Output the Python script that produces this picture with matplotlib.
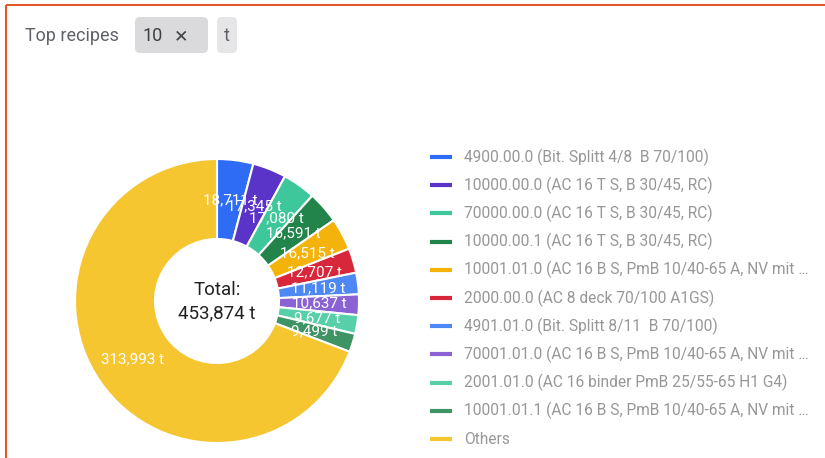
import matplotlib.pyplot as plt
from matplotlib.patches import FancyBboxPatch

plt.rcParams['font.family'] = ['Roboto', 'DejaVu Sans']

# data
recipes = ["4900.00.0 (Bit. Splitt 4/8  B 70/100)",
           "10000.00.0 (AC 16 T S, B 30/45, RC)",
           "70000.00.0 (AC 16 T S, B 30/45, RC)",
           "10000.00.1 (AC 16 T S, B 30/45, RC)",
           "10001.01.0 (AC 16 B S, PmB 10/40-65 A, NV mit …",
           "2000.00.0 (AC 8 deck 70/100 A1GS)",
           "4901.01.0 (Bit. Splitt 8/11  B 70/100)",
           "70001.01.0 (AC 16 B S, PmB 10/40-65 A, NV mit …",
           "2001.01.0 (AC 16 binder PmB 25/55-65 H1 G4)",
           "10001.01.1 (AC 16 B S, PmB 10/40-65 A, NV mit …",
           "Others"]
tonnes = [18711, 17345, 17080, 16591, 16515, 12707, 11119, 10637, 9677, 9499, 313993]
colors = ["#2f6cf6", "#5a33c8", "#3dc79a", "#22844a", "#f3b30b", "#d8263a",
          "#4d88f4", "#8a62d4", "#57cfa8", "#3f9465", "#f6c630"]
total = sum(tonnes)

W, H = 825, 458
fig = plt.figure(figsize=(W/100, H/100), dpi=100)
ax = fig.add_axes([0, 0, 1, 1])

def py(y):
    return H - y

# frame border
ax.plot([6, W], [py(4.5), py(4.5)], color="#e4582b", lw=1.5, solid_capstyle='butt')
ax.plot([6, 6], [py(4.5), 0], color="#e4582b", lw=1.5, solid_capstyle='butt')

# header
ax.text(25, py(36), "Top recipes", fontsize=13, color="#5f6368", va='center', ha='left')
ax.add_patch(FancyBboxPatch((135, py(53)), 73, 36, boxstyle="round,pad=0,rounding_size=5",
                            fc="#dadadd", ec="none"))
ax.text(142, py(36), "10", fontsize=13, color="#3c4043", va='center', ha='left')
ax.text(174, py(36), "✕", fontsize=12.5, color="#3c4043", va='center', ha='left',
        family=['DejaVu Sans'], fontweight='bold')
ax.add_patch(FancyBboxPatch((217, py(53)), 20, 36, boxstyle="round,pad=0,rounding_size=5",
                            fc="#e6e6e8", ec="none"))
ax.text(227, py(36), "t", fontsize=13, color="#5f6368", va='center', ha='center')

# donut
cx, cy, r_out, r_in = 217, py(301), 142, 62
labels = ["{:,} t".format(v) for v in tonnes]
wedges, texts = ax.pie(tonnes, colors=colors, startangle=90, counterclock=False,
                       center=(cx, cy), radius=r_out, labels=labels,
                       labeldistance=(r_out + r_in) / 2 / r_out,
                       wedgeprops=dict(width=r_out - r_in, edgecolor='white', linewidth=1.5),
                       textprops=dict(color='white', fontsize=11), frame=True)
for t in texts:
    t.set_ha('center')
    t.set_va('center')
ax.set_xlim(0, W)
ax.set_ylim(0, H)
ax.set_axis_off()

ax.text(cx, py(290), "Total:", fontsize=13.5, color="#222222", ha='center', va='center')
ax.text(cx, py(313), "{:,} t".format(total), fontsize=13.5, color="#222222", ha='center', va='center')

# legend
for i, (name, c) in enumerate(zip(recipes, colors)):
    y = py(157 + i * 28.2)
    ax.plot([430, 452], [y, y], color=c, lw=3, solid_capstyle='butt')
    ax.text(464, y, name, fontsize=11.2, color="#979797", va='center', ha='left')

fig.savefig("out.png", dpi=100)
